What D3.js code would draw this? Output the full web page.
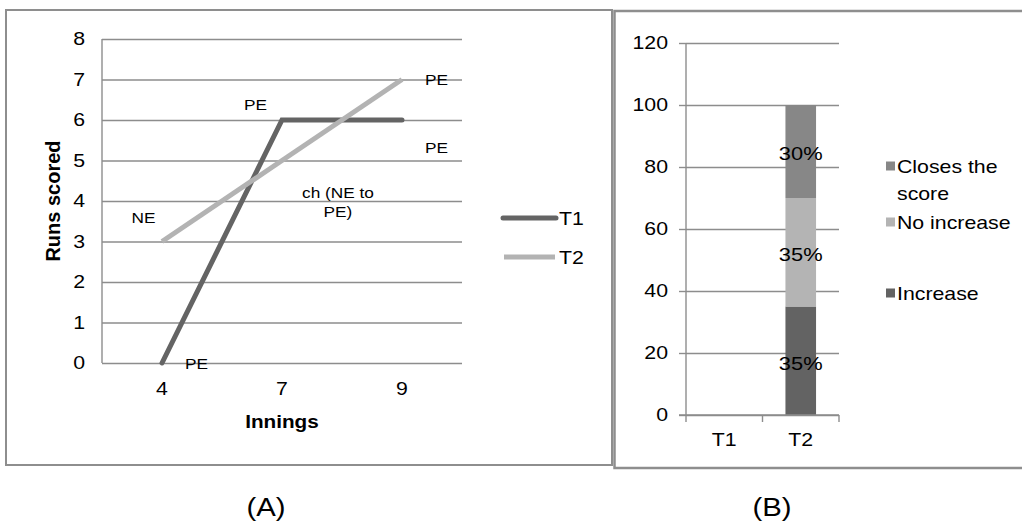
<!DOCTYPE html>
<html><head><meta charset="utf-8">
<script src="https://cdn.jsdelivr.net/npm/d3@7"></script>
<style>
html,body{margin:0;padding:0;background:#fff;}
svg{display:block;font-family:"Liberation Sans",Arial,sans-serif;}
</style></head>
<body>
<script>
// ---------- DATA ----------
const innings = ["4", "7", "9"];
const seriesNames = ["T1", "T2"];
const t1Runs = [0, 6, 6];
const t2Runs = [3, 5, 7];
const runTicks = [0, 1, 2, 3, 4, 5, 6, 7, 8];
const annotationTexts = ["PE", "NE", "PE", "ch (NE to", "PE)", "PE", "PE"];
const annotationInnings = ["7", "4", "4", "7", "7", "9", "9"];
const annotationValues = [6.37, 3.58, -0.02, 4.2, 3.73, 6.99, 5.33];

const teams = ["T1", "T2"];
const stackKeys = ["Increase", "No increase", "Closes the score"];
const increaseVals = [0, 35];
const noIncreaseVals = [0, 35];
const closesVals = [0, 30];
const barLabels = [["", "35%"], ["", "35%"], ["", "30%"]];
const pctTicks = [0, 20, 40, 60, 80, 100, 120];
const legendBLabels = [["Closes the", "score"], ["No increase"], ["Increase"]];
const legendBKeys = ["Closes the score", "No increase", "Increase"];

// ---------- LAYOUT / STYLE ----------
const W = 1022, H = 523;
const STRETCH = 1.15;
const gridCol = "#8d8d8d";
const lineCols = {T1: "#646464", T2: "#b3b3b3"};
const barCols = {"Increase": "#636363", "No increase": "#b4b4b4", "Closes the score": "#878787"};

const svg = d3.select("body").append("svg").attr("width", W).attr("height", H);

// panel borders
svg.append("rect").attr("x", 6).attr("y", 10).attr("width", 606).attr("height", 455)
  .attr("fill", "none").attr("stroke", "#8e8e8e").attr("stroke-width", 2);
svg.append("rect").attr("x", 614.5).attr("y", 11).attr("width", 420).attr("height", 457)
  .attr("fill", "none").attr("stroke", "#8e8e8e").attr("stroke-width", 2.5);

// ================= Chart A =================
const A = {left: 102, right: 462, top: 39, bottom: 363};
const xA = d3.scaleBand().domain(innings).range([A.left, A.right]);
const yA = d3.scaleLinear().domain([0, 8]).range([A.bottom, A.top]);

const gy = svg.append("g").attr("transform", `translate(${A.left},0)`)
  .call(d3.axisLeft(yA).tickValues(runTicks).tickSize(-(A.right - A.left)).tickPadding(17));
gy.select(".domain").remove();
gy.selectAll(".tick line").attr("stroke", gridCol).attr("stroke-width", 1.4);
gy.selectAll(".tick text").attr("font-size", 18.5).attr("fill", "#000").attr("class", "st");
svg.append("line").attr("x1", A.left).attr("x2", A.left).attr("y1", yA(8)).attr("y2", yA(0))
  .attr("stroke", gridCol).attr("stroke-width", 1.4);

const gx = svg.append("g").attr("transform", `translate(0,${A.bottom})`)
  .call(d3.axisBottom(xA).tickSize(0).tickPadding(18.5));
gx.select(".domain").remove();
gx.selectAll(".tick text").attr("font-size", 18.5).attr("fill", "#000").attr("class", "st");

svg.append("text").attr("class", "st").attr("x", (A.left + A.right) / 2).attr("y", 428)
  .attr("text-anchor", "middle").attr("font-size", 18).attr("font-weight", "bold").text("Innings");
svg.append("text").attr("transform", `translate(60,${(A.top + A.bottom) / 2}) rotate(-90)`)
  .attr("text-anchor", "middle").attr("font-size", 20).attr("font-weight", "bold").text("Runs scored");

const cx = d => xA(d) + xA.bandwidth() / 2;
const lineGen = d3.line().x(d => cx(d[0])).y(d => yA(d[1]));
const series = [
  {name: "T1", vals: t1Runs},
  {name: "T2", vals: t2Runs}
];
// draw T2 first then T1? In reference T1 appears beneath T2 at crossing near (7,6)
svg.selectAll("path.ser").data(series).join("path").attr("class", "ser")
  .attr("d", s => lineGen(innings.map((c, i) => [c, s.vals[i]])))
  .attr("fill", "none").attr("stroke", s => lineCols[s.name]).attr("stroke-width", 5)
  .attr("stroke-linecap", s => s.name === "T1" ? "round" : "butt").attr("stroke-linejoin", "miter");

// annotations
const annDx = [-26.5, -18.5, 34.5, 56, 56, 34.5, 34.5];
annotationTexts.forEach((t, i) => {
  svg.append("text").attr("class", "st")
    .attr("x", cx(annotationInnings[i]) + annDx[i])
    .attr("y", yA(annotationValues[i])).attr("dy", "0.36em")
    .attr("text-anchor", "middle").attr("font-size", 15).attr("fill", "#000").text(t);
});

// legend A
const legA = svg.selectAll("g.legA").data(seriesNames).join("g").attr("class", "legA")
  .attr("transform", (d, i) => `translate(0,${218 + i * 39})`);
legA.append("line").attr("x1", (d, i) => i === 0 ? 503 : 504).attr("x2", (d, i) => i === 0 ? 556 : 555)
  .attr("stroke", d => lineCols[d]).attr("stroke-width", 5)
  .attr("stroke-linecap", (d, i) => i === 0 ? "round" : "butt");
legA.append("text").attr("class", "st").attr("x", 559).attr("dy", "0.36em")
  .attr("font-size", 18.5).attr("fill", "#000").text(d => d);

// ================= Chart B =================
const B = {left: 686, right: 839, top: 43, bottom: 415};
const xB = d3.scaleBand().domain(teams).range([B.left, B.right]);
const yB = d3.scaleLinear().domain([0, 120]).range([B.bottom, B.top]);

const gridB = svg.append("g").attr("transform", `translate(${B.left},0)`)
  .call(d3.axisLeft(yB).tickValues(pctTicks).tickSize(-(B.right - B.left)).tickFormat(""));
gridB.select(".domain").remove();
gridB.selectAll(".tick line").attr("stroke", gridCol).attr("stroke-width", 1.4);

const gyB = svg.append("g").attr("transform", `translate(${B.left},0)`)
  .call(d3.axisLeft(yB).tickValues(pctTicks).tickSize(7).tickPadding(11));
gyB.select(".domain").remove();
gyB.selectAll(".tick line").attr("stroke", gridCol).attr("stroke-width", 1.4);
gyB.selectAll(".tick text").attr("font-size", 18.5).attr("fill", "#000").attr("class", "st");
svg.append("line").attr("x1", B.left).attr("x2", B.left).attr("y1", yB(120)).attr("y2", yB(0))
  .attr("stroke", gridCol).attr("stroke-width", 1.4);

// bars
const rows = teams.map((t, i) => ({team: t, "Increase": increaseVals[i], "No increase": noIncreaseVals[i], "Closes the score": closesVals[i]}));
const stacked = d3.stack().keys(stackKeys)(rows);
const bw = xB.bandwidth();
stacked.forEach((layer, li) => {
  svg.selectAll(null).data(layer).join("rect")
    .attr("x", d => xB(d.data.team) + bw * 0.3).attr("width", bw * 0.4)
    .attr("y", d => yB(d[1])).attr("height", d => yB(d[0]) - yB(d[1]))
    .attr("fill", barCols[layer.key]);
});
stacked.forEach((layer, li) => {
  svg.selectAll(null).data(layer).join("text").attr("class", "st")
    .attr("x", d => xB(d.data.team) + bw / 2).attr("y", d => yB((d[0] + d[1]) / 2) + 2).attr("dy", "0.36em")
    .attr("text-anchor", "middle").attr("font-size", 19).attr("fill", "#000")
    .text((d, i) => barLabels[li][i]);
});

// x axis B
const gxB = svg.append("g").attr("transform", `translate(0,${B.bottom})`)
  .call(d3.axisBottom(xB).tickSize(0).tickPadding(18));
gxB.select(".domain").remove();
gxB.selectAll(".tick text").attr("font-size", 18.5).attr("fill", "#000").attr("class", "st");
const bounds = teams.map(t => xB(t)).concat([xB(teams[teams.length - 1]) + bw]);
svg.selectAll(null).data(bounds).join("line")
  .attr("x1", d => d).attr("x2", d => d).attr("y1", B.bottom).attr("y2", B.bottom + 7)
  .attr("stroke", gridCol).attr("stroke-width", 1.4);
svg.append("line").attr("x1", B.left - 7).attr("x2", B.right).attr("y1", B.bottom).attr("y2", B.bottom)
  .attr("stroke", gridCol).attr("stroke-width", 1.4);

// legend B
const legYs = [166, 222, 293];
legendBKeys.forEach((k, i) => {
  svg.append("rect").attr("x", 886).attr("y", legYs[i] - 4.5).attr("width", 9).attr("height", 9)
    .attr("fill", barCols[k]);
  legendBLabels[i].forEach((ln, j) => {
    svg.append("text").attr("class", "st").attr("x", 897).attr("y", legYs[i] + j * 27).attr("dy", "0.36em")
      .attr("font-size", 18.5).attr("fill", "#000").text(ln);
  });
});

// captions
svg.append("text").attr("class", "st").attr("x", 266).attr("y", 516).attr("text-anchor", "middle")
  .attr("font-size", 25.5).attr("fill", "#000").text("(A)");
svg.append("text").attr("class", "st").attr("x", 772).attr("y", 516).attr("text-anchor", "middle")
  .attr("font-size", 25.5).attr("fill", "#000").text("(B)");

// horizontal stretch to match the reference's text proportions
svg.selectAll("text.st").each(function () {
  const l = this.getComputedTextLength();
  if (l > 0) {
    this.setAttribute("textLength", l * STRETCH);
    this.setAttribute("lengthAdjust", "spacingAndGlyphs");
  }
});
</script>
</body></html>
